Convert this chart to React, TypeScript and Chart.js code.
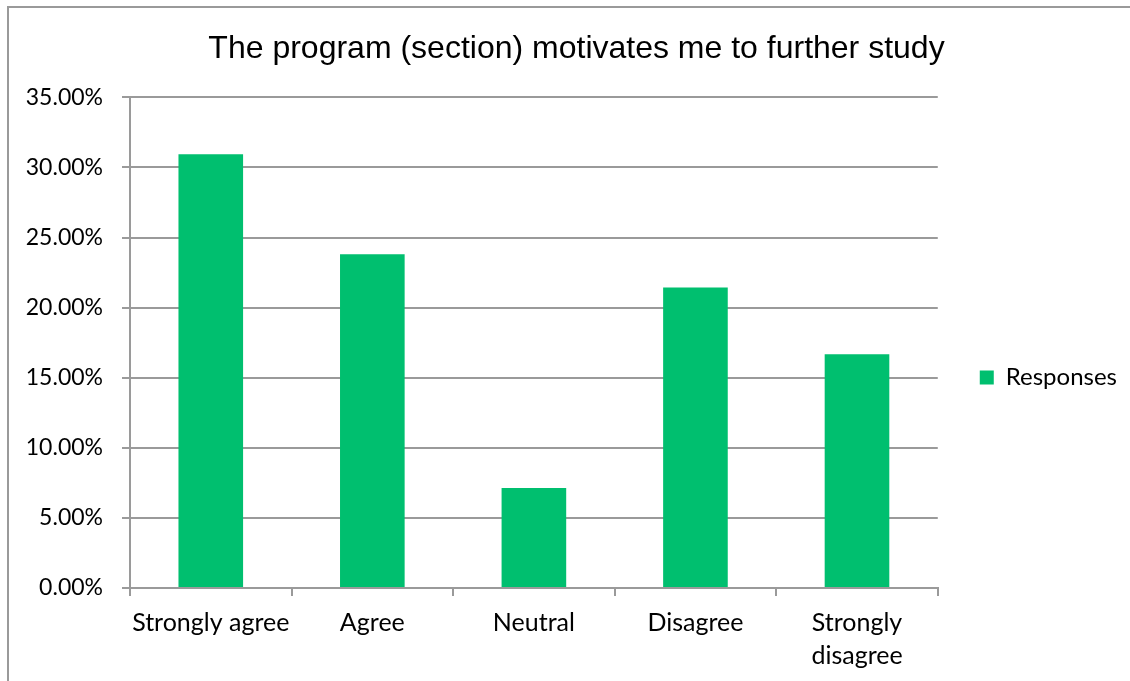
import React, { useEffect, useRef } from 'react';
import { Chart, registerables } from 'chart.js';

Chart.register(...registerables);

const chartTitle = 'The program (section) motivates me to further study';
const seriesName = 'Responses';
const categories = ['Strongly agree', 'Agree', 'Neutral', 'Disagree', 'Strongly disagree'];
const responses = [30.95, 23.81, 7.14, 21.43, 16.67];
const yMin = 0;
const yMax = 35;
const yStep = 5;

const GREEN = '#00BF6F';
const GRID = '#9a9a9a';
const BODY_FONT = 'Lato';

export default function App() {
  const ref = useRef<HTMLCanvasElement | null>(null);

  useEffect(() => {
    if (!ref.current) return;
    const chart = new Chart(ref.current, {
      type: 'bar',
      data: {
        labels: categories,
        datasets: [
          {
            label: seriesName,
            data: responses,
            backgroundColor: GREEN,
            borderWidth: 0,
            categoryPercentage: 1,
            barPercentage: 0.4,
          },
        ],
      },
      options: {
        responsive: false,
        animation: false,
        layout: { padding: { left: 26, right: 3, top: 0, bottom: 8 } },
        plugins: {
          title: {
            display: true,
            text: chartTitle,
            color: '#000',
            font: { family: 'Liberation Sans', size: 32, weight: 'normal' },
            padding: { top: 30, bottom: 29 },
          },
          legend: {
            display: true,
            position: 'right',
            align: 'center',
            title: { display: true, text: '', padding: { top: 70, bottom: 0 }, font: { size: 10 } },
            labels: {
              boxWidth: 14,
              boxHeight: 14,
              padding: 42,
              color: '#000',
              font: { family: BODY_FONT, size: 24 },
            },
          },
          tooltip: { enabled: false },
        },
        scales: {
          x: {
            offset: true,
            grid: {
              offset: true,
              drawOnChartArea: false,
              drawTicks: true,
              tickLength: 8,
              color: GRID,
              lineWidth: 2,
            },
            border: { display: true, color: GRID, width: 2 },
            ticks: {
              color: '#000',
              padding: 10,
              maxRotation: 0,
              autoSkip: false,
              font: { family: BODY_FONT, size: 25, lineHeight: 1.33 },
              callback: (_v: any, i: number) => {
                const l = categories[i];
                return l.length > 15 ? l.split(' ') : l;
              },
            },
            afterFit: (s: any) => {
              s.height = 85;
            },
          },
          y: {
            min: yMin,
            max: yMax,
            grid: { color: GRID, lineWidth: 2, tickLength: 8, drawTicks: true },
            border: { display: true, color: GRID, width: 2 },
            ticks: {
              stepSize: yStep,
              color: '#000',
              padding: 19,
              font: { family: BODY_FONT, size: 23 },
              callback: (v: any) => Number(v).toFixed(2) + '%',
            },
            afterFit: (s: any) => {
              s.width = 104;
            },
          },
        },
      },
    });
    return () => chart.destroy();
  }, []);

  return (
    <div
      style={{
        position: 'fixed',
        left: 0,
        top: 0,
        width: 1130,
        height: 681,
        overflow: 'hidden',
        background: '#fff',
      }}
    >
      <div
        style={{
          position: 'absolute',
          left: 7,
          top: 6,
          width: 1400,
          height: 900,
          borderLeft: '2px solid #9a9a9a',
          borderTop: '2px solid #9a9a9a',
        }}
      />
      <canvas ref={ref} width={1130} height={681} style={{ position: 'absolute', left: 0, top: 0 }} />
    </div>
  );
}
